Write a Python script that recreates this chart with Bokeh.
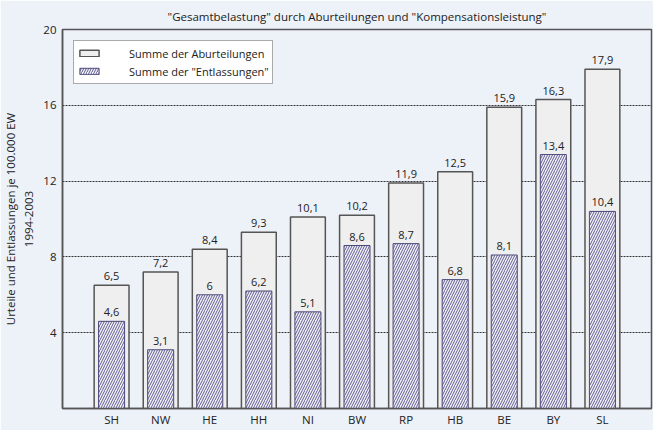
from bokeh.plotting import figure
from bokeh.models import Range1d, FixedTicker, Legend, LegendItem, ColumnDataSource
from bokeh.core.properties import value
from bokeh.embed import file_html
from bokeh.resources import INLINE

categories = ["SH", "NW", "HE", "HH", "NI", "BW", "RP", "HB", "BE", "BY", "SL"]
aburteilungen = [6.5, 7.2, 8.4, 9.3, 10.1, 10.2, 11.9, 12.5, 15.9, 16.3, 17.9]
entlassungen = [4.6, 3.1, 6.0, 6.2, 5.1, 8.6, 8.7, 6.8, 8.1, 13.4, 10.4]
y_ticks = [4, 8, 12, 16, 20]

FONT = "Open Sans"
BG = "#edf1f8"


def fmt(v):
    return f"{v:g}".replace(".", ",")


xs = list(range(len(categories)))
src = ColumnDataSource(dict(
    x=xs, cat=categories, a=aburteilungen, e=entlassungen,
    a_lab=[fmt(v) for v in aburteilungen], e_lab=[fmt(v) for v in entlassungen],
))

p = figure(frame_width=589, frame_height=379, output_backend="svg", toolbar_location=None,
           x_range=Range1d(-1, len(categories)), y_range=Range1d(0, 20),
           min_border_left=55, min_border_right=2, min_border_top=21, min_border_bottom=22,
           title='"Gesamtbelastung" durch Aburteilungen und "Kompensationsleistung"')

p.background_fill_color = BG
p.border_fill_color = BG
p.outline_line_color = "#555555"
p.outline_line_width = 1.5

p.title.align = "center"
p.title.text_font = FONT
p.title.text_font_size = "11.5px"
p.title.text_font_style = "normal"
p.title.text_color = "#222222"
p.title.standoff = 12

r_a = p.vbar(x="x", top="a", width=0.71, source=src, fill_color="#efefef",
             line_color="#555555", line_width=1.5)
r_e = p.vbar(x="x", top="e", width=0.53, source=src, fill_color="#f2f1f7",
             line_color="#4a4878", line_width=1,
             hatch_pattern="/", hatch_color="#5f5d92", hatch_scale=5, hatch_weight=1)

p.text(x="x", y="a", text="a_lab", source=src, text_align="center", text_baseline="bottom",
       y_offset=-5, text_font=value(FONT), text_font_size="11px", text_color="#222222")
p.text(x="x", y="e", text="e_lab", source=src, text_align="center", text_baseline="bottom",
       y_offset=-5, text_font=value(FONT), text_font_size="11px", text_color="#222222")

# axes
p.xaxis.ticker = FixedTicker(ticks=xs)
p.xaxis.major_label_overrides = {i: c for i, c in zip(xs, categories)}
p.yaxis.ticker = FixedTicker(ticks=y_ticks)
for ax in (p.xaxis[0], p.yaxis[0]):
    ax.major_tick_line_color = None
    ax.minor_tick_line_color = None
    ax.major_tick_out = 0
    ax.major_tick_in = 0
    ax.minor_tick_out = 0
    ax.minor_tick_in = 0
    ax.axis_line_color = "#555555"
    ax.axis_line_width = 1.5
    ax.major_label_text_font = FONT
    ax.major_label_text_font_size = "11.5px"
    ax.major_label_text_color = "#222222"
p.xaxis.major_label_standoff = 3
p.xaxis.axis_label_standoff = 0
p.yaxis.major_label_standoff = 6

p.yaxis.axis_label = "Urteile und Entlassungen je 100.000 EW\n1994-2003"
p.yaxis.axis_label_text_font = FONT
p.yaxis.axis_label_text_font_size = "11.5px"
p.yaxis.axis_label_text_font_style = "normal"
p.yaxis.axis_label_text_color = "#222222"
p.yaxis.axis_label_standoff = 4

p.xgrid.grid_line_color = None
p.ygrid.ticker = FixedTicker(ticks=[4, 8, 12, 16])
p.ygrid.grid_line_color = "#333333"
p.ygrid.grid_line_dash = "2 1"
p.ygrid.grid_line_width = 1

legend = Legend(items=[
    LegendItem(label="Summe der Aburteilungen", renderers=[r_a]),
    LegendItem(label='Summe der "Entlassungen"', renderers=[r_e]),
], location="top_left")
legend.margin = 11
legend.padding = 3
legend.spacing = 0
legend.glyph_width = 24
legend.glyph_height = 8
legend.label_height = 18
legend.label_standoff = 28
legend.label_text_font = FONT
legend.label_text_font_size = "11px"
legend.label_text_color = "#222222"
legend.border_line_color = "#555555"
legend.border_line_width = 1.5
legend.background_fill_color = "white"
legend.background_fill_alpha = 1
p.add_layout(legend)

open("out.html", "w").write(file_html(p, INLINE))
